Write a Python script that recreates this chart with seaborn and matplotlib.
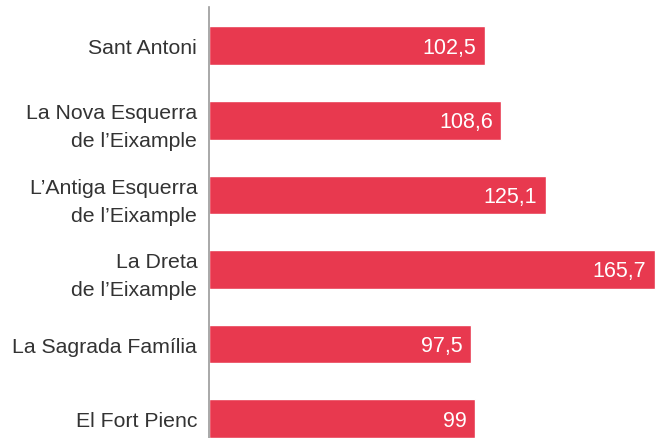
import pandas as pd
import seaborn as sns
import matplotlib.pyplot as plt

# barris de l'Eixample
barris = ['Sant Antoni', 'La Nova Esquerra\nde l\u2019Eixample', 'L\u2019Antiga Esquerra\nde l\u2019Eixample',
          'La Dreta\nde l\u2019Eixample', 'La Sagrada Fam\u00edlia', 'El Fort Pienc']
valors = [102.5, 108.6, 125.1, 165.7, 97.5, 99]
etiquetes = ['102,5', '108,6', '125,1', '165,7', '97,5', '99']

df = pd.DataFrame({'barri': barris, 'valor': valors})

sns.set_style('white')
plt.rcParams['font.family'] = ['Liberation Sans', 'DejaVu Sans']

fig = plt.figure(figsize=(6.56, 4.39), dpi=100)
ax = fig.add_axes([209 / 656, 0, 1 - 209 / 656, 1 - 8 / 439])

sns.barplot(data=df, x='valor', y='barri', orient='h', color='#E8394F',
            saturation=1, width=0.52, ax=ax)

for i, (v, t) in enumerate(zip(valors, etiquetes)):
    ax.text(v - 3.2, i + 0.02, t, color='white', fontsize=15.5, ha='right', va='center')

ax.set_xlim(0, 165.7 * 447 / 446)
ax.set_ylim(5.26, -0.52)
ax.set_xlabel('')
ax.set_ylabel('')
ax.set_xticks([])
for s in ['top', 'right', 'bottom']:
    ax.spines[s].set_visible(False)
ax.spines['left'].set_color('#9a9a9a')
ax.spines['left'].set_linewidth(1.2)
ax.tick_params(axis='y', length=0, pad=8.5, labelsize=15.3, labelcolor='#333333')
for lab in ax.get_yticklabels():
    lab.set_linespacing(1.6)
    lab.set_ha('right')
    lab.set_multialignment('right')

fig.savefig('out.png', dpi=100)
